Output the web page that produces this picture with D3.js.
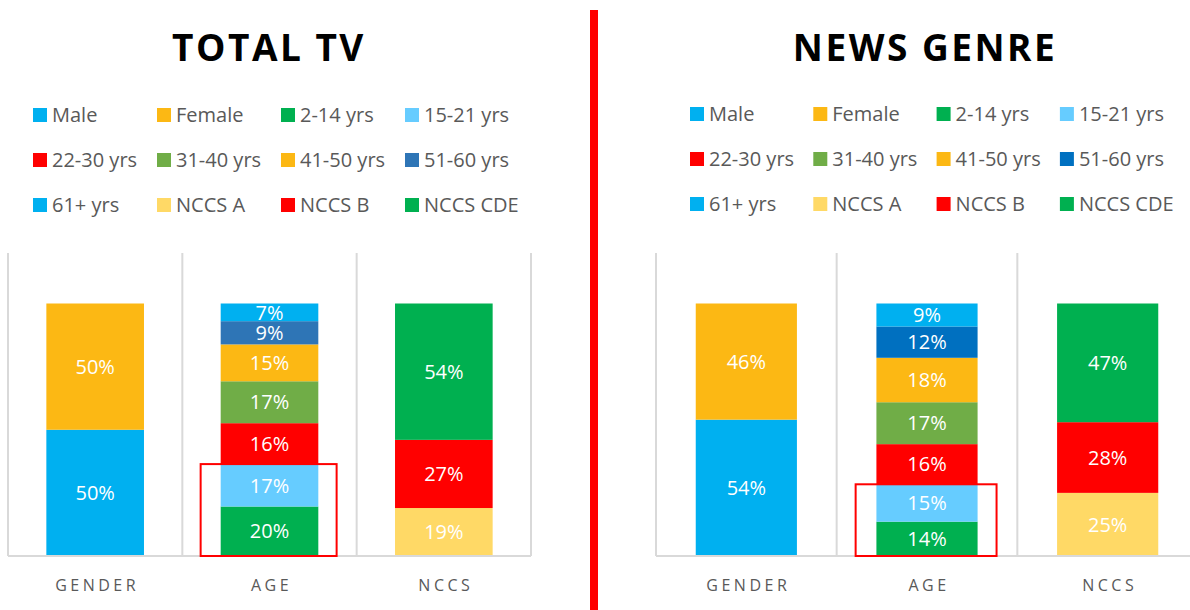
<!DOCTYPE html>
<html>
<head>
<meta charset="utf-8">
<script src="https://cdn.jsdelivr.net/npm/d3@7"></script>
<style>
  body { margin: 0; background: #fff; }
  svg { display: block; font-family: "Open Sans", sans-serif; }
</style>
</head>
<body>
<svg id="chart" width="1190" height="610"></svg>
<script>
// categories on the x axis
const categories = ["GENDER", "AGE", "NCCS"];

// series, in stacking order (bottom -> top within each bar)
const seriesKeys = ["Male", "Female", "2-14 yrs", "15-21 yrs", "22-30 yrs", "31-40 yrs",
  "41-50 yrs", "51-60 yrs", "61+ yrs", "NCCS A", "NCCS B", "NCCS CDE"];
const seriesCategory = ["GENDER", "GENDER", "AGE", "AGE", "AGE", "AGE",
  "AGE", "AGE", "AGE", "NCCS", "NCCS", "NCCS"];

// share (%) for each series (labels show them rounded)
const totalTvValues = [50, 50, 19.6, 16.8, 16.2, 16.6, 14.6, 9.2, 7.0, 19, 27, 54];
const newsValues    = [54, 46, 13.6, 14.8, 15.9, 16.6, 17.6, 12.4, 9.1, 25, 28, 47];

const colorsTotalTv = ["#00B0F0", "#FCB814", "#00B050", "#66CCFF", "#FF0000", "#70AD47",
  "#FCB814", "#2E75B6", "#00B0F0", "#FFD966", "#FF0000", "#00B050"];
const colorsNews = ["#00B0F0", "#FCB814", "#00B050", "#66CCFF", "#FF0000", "#70AD47",
  "#FCB814", "#0070C0", "#00B0F0", "#FFD966", "#FF0000", "#00B050"];

// the two bottom age groups are boxed in red
const highlightKeys = ["2-14 yrs", "15-21 yrs"];

const svg = d3.select("#chart");

const drawPanel = (opts) => {
  const g = svg.append("g");

  // one row per category, one column per series (0 when not in that category)
  const rows = categories.map(c => {
    const r = { cat: c };
    seriesKeys.forEach((k, i) => { r[k] = seriesCategory[i] === c ? opts.values[i] / 100 : 0; });
    return r;
  });
  const stacked = d3.stack().keys(seriesKeys)(rows);

  const x = d3.scaleBand().domain(categories).range(opts.xRange).paddingInner(0).paddingOuter(0);
  const y = d3.scaleLinear().domain([0, 1.2]).range([556, 253]);
  const bw = x.bandwidth();
  const barW = bw * 0.56;
  const barOff = (bw - barW) / 2;
  const color = d3.scaleOrdinal().domain(seriesKeys).range(opts.colors);

  // title
  g.append("text")
    .attr("x", opts.titleX)
    .attr("y", 61)
    .attr("text-anchor", "middle")
    .style("font-size", "37px")
    .style("font-weight", "bold")
    .style("letter-spacing", "2.5px")
    .attr("fill", "#000")
    .text(opts.title);

  // legend, 4 columns x 3 rows
  const leg = g.selectAll(".leg")
    .data(seriesKeys)
    .enter()
    .append("g")
    .attr("transform", (d, i) => `translate(${opts.legendX + (i % 4) * opts.legendStep},${opts.legendY + Math.floor(i / 4) * 45})`);
  leg.append("rect")
    .attr("x", 0).attr("y", -7)
    .attr("width", 14).attr("height", 14)
    .attr("fill", d => color(d));
  leg.append("text")
    .attr("x", 19)
    .attr("y", 0)
    .attr("dy", "0.36em")
    .style("font-size", "20px")
    .attr("fill", "#595959")
    .text(d => d);

  // vertical grid lines at the band edges
  const edges = categories.map(c => x(c)).concat([x.range()[1]]);
  g.selectAll(".grid")
    .data(edges)
    .enter()
    .append("line")
    .attr("x1", d => d).attr("x2", d => d)
    .attr("y1", y(1.2)).attr("y2", y(0))
    .attr("stroke", "#D9D9D9")
    .attr("stroke-width", 2);

  // stacked bars
  const layer = g.selectAll(".layer")
    .data(stacked)
    .enter()
    .append("g")
    .attr("fill", d => color(d.key));
  layer.selectAll("rect")
    .data(d => d.filter(p => p[1] - p[0] > 0))
    .enter()
    .append("rect")
    .attr("x", d => x(d.data.cat) + barOff)
    .attr("width", barW)
    .attr("y", d => y(d[1]))
    .attr("height", d => y(d[0]) - y(d[1]));

  // value labels
  layer.selectAll("text")
    .data(d => d.filter(p => p[1] - p[0] > 0))
    .enter()
    .append("text")
    .attr("x", d => x(d.data.cat) + bw / 2)
    .attr("y", d => y((d[0] + d[1]) / 2))
    .attr("dy", "0.36em")
    .attr("text-anchor", "middle")
    .attr("fill", "#fff")
    .style("font-size", "20px")
    .text(d => Math.round((d[1] - d[0]) * 100) + "%");

  // baseline
  g.append("line")
    .attr("x1", x.range()[0]).attr("x2", x.range()[1])
    .attr("y1", y(0)).attr("y2", y(0))
    .attr("stroke", "#D9D9D9")
    .attr("stroke-width", 2);

  // category labels
  g.selectAll(".cat")
    .data(categories)
    .enter()
    .append("text")
    .attr("x", d => x(d) + bw / 2 + 2)
    .attr("y", 591)
    .attr("text-anchor", "middle")
    .attr("fill", "#595959")
    .style("font-size", "16px")
    .style("letter-spacing", "3.5px")
    .text(d => d);

  // red highlight box round the two youngest age groups
  const hiTop = d3.sum(highlightKeys, k => opts.values[seriesKeys.indexOf(k)]) / 100;
  g.append("rect")
    .attr("x", x("AGE") + bw * 0.105)
    .attr("width", bw * 0.78)
    .attr("y", y(hiTop))
    .attr("height", y(0) - y(hiTop))
    .attr("fill", "none")
    .attr("stroke", "#FF0000")
    .attr("stroke-width", 2);
};

drawPanel({
  title: "TOTAL TV", titleX: 269,
  values: totalTvValues, colors: colorsTotalTv,
  xRange: [8, 531], legendX: 33, legendY: 115, legendStep: 124
});

drawPanel({
  title: "NEWS GENRE", titleX: 925,
  values: newsValues, colors: colorsNews,
  xRange: [656, 1198], legendX: 690, legendY: 114, legendStep: 123.3
});

// red divider between the two charts
svg.append("rect")
  .attr("x", 590).attr("y", 10)
  .attr("width", 8).attr("height", 600)
  .attr("fill", "#FF0000");
</script>
</body>
</html>
